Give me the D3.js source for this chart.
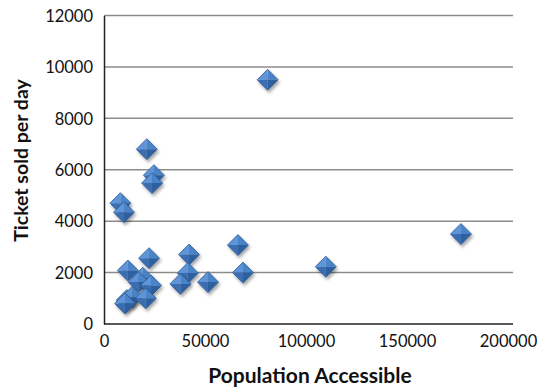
<!DOCTYPE html>
<html><head><meta charset="utf-8">
<script src="https://cdn.jsdelivr.net/npm/d3@7"></script>
<style>body{margin:0;background:#fff}svg{display:block}text{font-family:Lato,"Open Sans",sans-serif}</style>
</head><body><svg id="c" width="537" height="391"></svg>
<script>
const population = [8100, 9900, 21200, 24700, 23800, 81000, 176700, 109800, 66300, 42100, 22300, 11800, 68800, 41500, 51500, 37800, 19200, 17200, 23300, 11300, 13900, 20700, 10400];
const tickets    = [4700, 4350, 6800, 5790, 5480, 9500, 3500, 2230, 3070, 2700, 2560, 2080, 2000, 1980, 1630, 1560, 1800, 1630, 1500, 930, 1050, 1000, 800];
const xTicks = [0, 50000, 100000, 150000, 200000];
const yTicks = [0, 2000, 4000, 6000, 8000, 10000, 12000];
const xTitle = "Population Accessible";
const yTitle = "Ticket sold per day";

const svg = d3.select("#c");
const x = d3.scaleLinear().domain([0, 200000]).range([104, 508]);
const y = d3.scaleLinear().domain([0, 12000]).range([324, 15.5]);
const plotRight = 513;

const defs = svg.append("defs");
const f = defs.append("filter").attr("id","sh").attr("x","-50%").attr("y","-50%").attr("width","200%").attr("height","200%");
f.append("feDropShadow").attr("dx",1.5).attr("dy",2.5).attr("stdDeviation",1.6).attr("flood-color","#000").attr("flood-opacity",0.35);

// gridlines
svg.append("g").selectAll("line").data(yTicks.filter(d=>d>0)).join("line")
  .attr("x1", x(0)).attr("x2", plotRight).attr("y1", d=>y(d)).attr("y2", d=>y(d))
  .attr("stroke","#8c8c8c").attr("stroke-width",1.5);

// axes
const ya = svg.append("g").attr("transform",`translate(${x(0)},0)`)
  .call(d3.axisLeft(y).tickValues(yTicks).tickSize(0).tickPadding(11).tickFormat(d3.format("d")));
ya.select(".domain").attr("stroke","#222").attr("stroke-width",1.5);
ya.selectAll("text").attr("font-size",16.5).attr("fill","#111").attr("dy","0.35em");

const xa = svg.append("g").attr("transform",`translate(0,${y(0)})`)
  .call(d3.axisBottom(x).tickValues(xTicks).tickSize(0).tickPadding(11).tickFormat(d3.format("d")));
xa.select(".domain").attr("d",`M${x(0)},0H${plotRight}`).attr("stroke","#222").attr("stroke-width",1.5);
xa.selectAll("text").attr("font-size",16.5).attr("fill","#111");

// titles
svg.append("text").attr("x",310).attr("y",383).attr("text-anchor","middle")
  .attr("font-size",21).attr("font-weight","bold").attr("fill","#111").text(xTitle);
svg.append("text").attr("transform","translate(28,160.5) rotate(-90)").attr("text-anchor","middle")
  .attr("font-size",19.5).attr("font-weight","bold").attr("fill","#111").text(yTitle);

// markers
const r = 10.5;
const pts = population.map((p,i)=>({p, t:tickets[i]}));
const g = svg.append("g").selectAll("g").data(pts).join("g")
  .attr("transform", d=>`translate(${x(d.p)},${y(d.t)})`).attr("filter","url(#sh)");
const facets = [
  {d:`M0,${-r} L${-r},0 L0,0 Z`, c:"#5e95d8"},
  {d:`M0,${-r} L${r},0 L0,0 Z`, c:"#4a83c8"},
  {d:`M${-r},0 L0,${r} L0,0 Z`, c:"#3a6eb0"},
  {d:`M${r},0 L0,${r} L0,0 Z`, c:"#2f5f9e"}
];
facets.forEach(fc=>g.append("path").attr("d",fc.d).attr("fill",fc.c));
g.append("path").attr("d",`M0,${-r} L${r},0 L0,${r} L${-r},0 Z`).attr("fill","none").attr("stroke","#2c5a94").attr("stroke-width",0.8);
</script></body></html>
